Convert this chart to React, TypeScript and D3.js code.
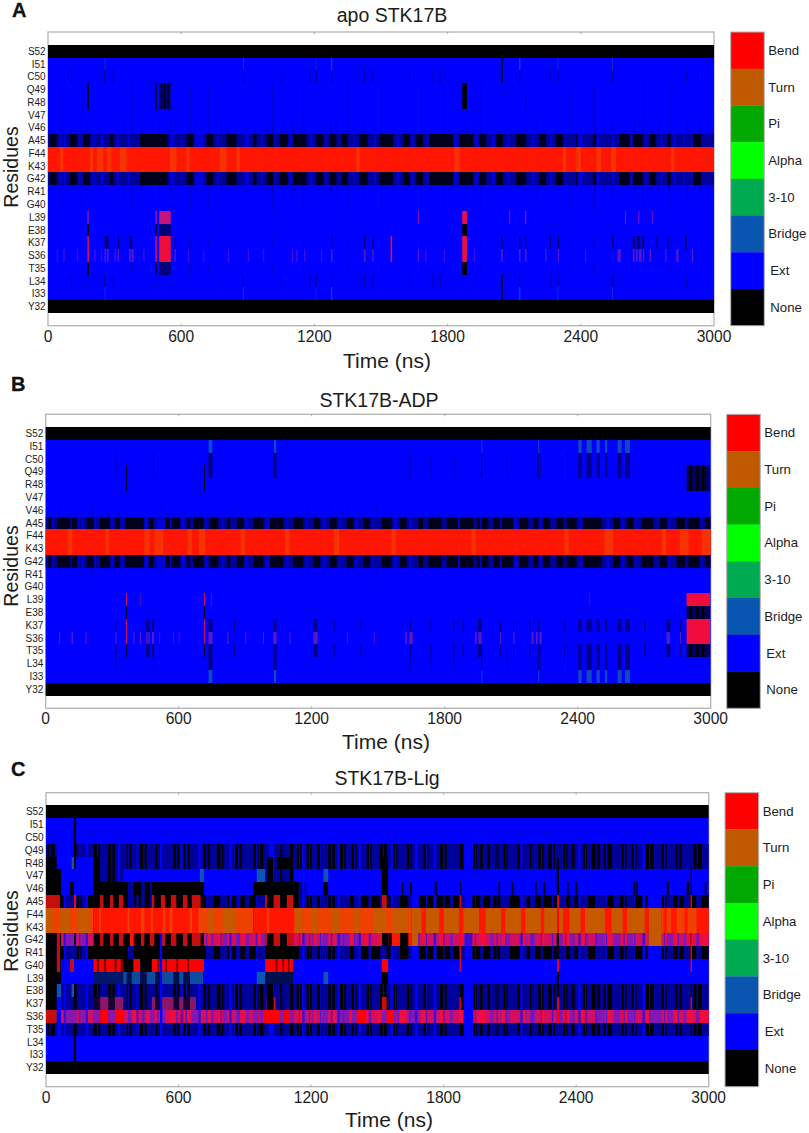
import React from "react";
import * as d3 from "d3";

type Span = [number, number];
type Seg = [number, number, string];
interface Mottle { on: string; fill: string; spans: Span[]; rows?: number[] }
interface Layer { rows: number[]; fill: string; spans: Span[] }

const FONT = "'Liberation Sans', Arial, sans-serif";
const residues = ["Y32","I33","L34","T35","S36","K37","E38","L39","G40","R41","G42","K43","F44","A45","V46","V47","R48","Q49","C50","I51","S52"];
const firstResidue = 32;
const xTicks = [0, 600, 1200, 1800, 2400, 3000];
const legendNames = ["Bend","Turn","Pi","Alpha","3-10","Bridge","Ext","None"];
const legendColors = ["#ff0000","#c05a00","#00a800","#00ff00","#00aa50","#0a55b0","#0000ff","#000000"];

const BLK = "#000000", BLU = "#0000ff", NAV = "#00009a", RED = "#ff1600", TRN = "#c65800", ORG = "#ee4000", SFT = "#f53000",
  BRG = "#0a55b0", PUR = "#8418b4", CRM = "#ee0f3c", DRD = "#c80c0c", PLM = "#8a1468", TEA = "#0b4c9e", DIM = "#0000cc",
  MID = "#c2127e", REDX = "#ff0000", INK = "#00001c", FPU = "#5a14cc";

/* ---------- Panel A ---------- */
const aMidBlack: Span[] = [[9,39],[99,129],[159,189],[279,294],[414,541],[624,654],[714,744],[804,849],[924,939],[984,1014],[1044,1081],[1104,1164],[1209,1239],[1269,1299],[1321,1351],[1404,1441],[1494,1554],[1599,1629],[1659,1689],[1719,1824],[1854,1914],[1944,1974],[2019,2049],[2109,2154],[2214,2244],[2289,2319],[2379,2394],[2454,2476],[2574,2619],[2634,2679],[2709,2739],[2790,2805],[2904,2941]];
const aMidBright: Span[] = [[52,60],[72,80],[140,146],[200,210],[240,248],[310,318],[360,368],[549,570],[600,606],[660,700],[760,768],[885,905],[960,968],[1020,1026],[1088,1094],[1180,1190],[1250,1256],[1375,1382],[1470,1478],[1570,1580],[1640,1648],[1705,1712],[1830,1846],[1925,1938],[2000,2012],[2070,2080],[2180,2190],[2260,2268],[2327,2334],[2386,2409],[2469,2484],[2540,2550],[2625,2632],[2690,2698],[2760,2768],[2814,2829],[2860,2868],[2897,2904]];
const aOrange: Span[] = [[54,69],[189,204],[219,249],[264,286],[324,354],[549,579],[624,639],[774,804],[849,864],[1389,1404],[1831,1854],[2319,2334],[2379,2401],[2469,2491],[2536,2559],[2806,2821]];
const aC50Lines: Span[] = [[103,109],[252,258],[291,297],[877,883],[1049,1053],[1176,1182],[1206,1212],[1275,1281],[1423,1429],[1461,1467],[1627,1631],[1732,1736],[1765,1769],[2041,2047],[2122,2128],[2260,2264],[2296,2300],[2541,2547],[2875,2879],[2924,2928]];
const aI51Lines: Span[] = [[2041,2048]];
const aI51Teal: Span[] = [[255,258],[880,883],[1206,1209],[1275,1281],[2122,2128],[2296,2299],[2541,2544]];
const aQ49Black: Span[] = [[178,184],[484,490],[1866,1887]];
const aQ49Navy: Span[] = [[501,553]];
const aQ49Stripes: Span[] = [[508,514],[522,528],[538,544]];
const aR48Lines: Span[] = [[2150,2154]];
const aL39Crimson: Span[] = [[178,183],[484,490],[1666,1670],[2078,2082],[2149,2154],[2600,2604],[2660,2664],[2720,2723]];
const aL39Mid: Span[] = [[501,553]];
const aL39Bright: Span[] = [[1866,1887]];
const aE38Black: Span[] = [[178,184],[484,490],[1866,1887]];
const aE38Navy: Span[] = [[501,553]];
const aK37Dark: Span[] = [[255,273],[314,320],[365,378],[570,575],[1275,1281],[1423,1430],[1461,1467],[1543,1550],[2041,2048],[2122,2128],[2149,2155],[2260,2265],[2296,2302],[2541,2547],[2634,2644],[2652,2668],[2676,2686],[2740,2745],[2790,2795],[2870,2878]];
const aS36Purple: Span[] = [[40,44],[70,74],[130,134],[210,214],[240,244],[255,262],[266,273],[300,304],[314,320],[365,372],[376,385],[430,434],[570,575],[630,634],[700,704],[810,814],[900,904],[970,974],[1100,1104],[1120,1124],[1155,1159],[1230,1234],[1275,1281],[1423,1430],[1461,1467],[1666,1672],[1700,1704],[1785,1789],[1920,1924],[2041,2048],[2122,2128],[2149,2155],[2240,2245],[2296,2302],[2420,2424],[2566,2580],[2634,2642],[2648,2656],[2662,2674],[2680,2686],[2710,2716],[2780,2786],[2830,2840],[2900,2906]];
const aS36Red: Span[] = [[178,184],[484,490],[501,553],[1543,1550],[1866,1887]];
const aFaintMid: Span[] = [[178,182],[340,344],[420,424],[500,504],[550,554],[660,664],[780,784],[1060,1064],[1100,1104],[1270,1274],[1300,1304],[1420,1424],[1880,1884],[2200,2204],[2400,2404],[2540,2544],[2640,2644],[2700,2704],[2750,2754],[2880,2884],[2940,2944],[2970,2974]];
const aFaintUpper: Span[] = [[60,64],[150,154],[380,384],[640,644],[720,724],[1010,1014],[1150,1154],[1350,1354],[1500,1504],[1680,1684],[1780,1784],[1950,1954],[2350,2354],[2460,2464],[2680,2684],[2800,2804]];

const aSegs: Record<number, Seg[]> = {
  45: [[0,3000,NAV]], 42: [[0,3000,NAV]],
  44: [[0,3000,RED]], 43: [[0,3000,RED]],
};
const aMottles: Mottle[] = [
  { on: NAV, fill: INK, spans: aMidBlack }, { on: NAV, fill: "#0000d8", spans: aMidBright }, { on: RED, fill: SFT, spans: aOrange },
];
const aLayers: Layer[] = [
  { rows: [46,41,47,40,49,48,37,35], fill: DIM, spans: aFaintUpper },
  { rows: [46,41], fill: DIM, spans: aFaintMid },
  { rows: [50,34], fill: "#0000a8", spans: aC50Lines },
  { rows: [51,33], fill: "#1040c8", spans: aI51Teal },
  { rows: [51,33,50,34], fill: BLK, spans: aI51Lines },
  { rows: [49,48], fill: BLK, spans: aQ49Black },
  { rows: [49,48], fill: "#00007a", spans: aQ49Navy },
  { rows: [49,48], fill: INK, spans: aQ49Stripes },
  { rows: [48], fill: "#0000a8", spans: aR48Lines },
  { rows: [39], fill: "#b0109c", spans: aL39Crimson },
  { rows: [39], fill: MID, spans: aL39Mid },
  { rows: [39], fill: CRM, spans: aL39Bright },
  { rows: [38,35], fill: BLK, spans: aE38Black },
  { rows: [38,35], fill: "#00007a", spans: aE38Navy },
  { rows: [37], fill: "#00007a", spans: aK37Dark },
  { rows: [36], fill: FPU, spans: aS36Purple },
  { rows: [37,36], fill: CRM, spans: aS36Red },
];

/* ---------- Panel B ---------- */
const bMidBlack: Span[] = [[12,27],[50,110],[117,143],[185,215],[245,290],[313,335],[358,444],[463,486],[541,606],[636,651],[666,711],[741,779],[817,832],[862,892],[937,982],[1012,1072],[1117,1162],[1208,1238],[1283,1313],[1358,1388],[1433,1463],[1516,1561],[1598,1628],[1681,1703],[1726,1786],[1809,1929],[1944,1997],[2019,2109],[2139,2177],[2200,2222],[2245,2275],[2305,2335],[2350,2395],[2425,2508],[2561,2591],[2621,2651],[2688,2741],[2771,2801],[2846,2884],[2899,2951],[2974,2997]];
const bMidBright: Span[] = [[30,36],[145,152],[165,172],[220,228],[296,302],[340,348],[445,463],[501,538],[560,566],[612,630],[720,728],[795,802],[900,908],[990,996],[1000,1010],[1085,1092],[1175,1182],[1250,1262],[1325,1332],[1400,1408],[1475,1482],[1570,1585],[1640,1650],[1860,1868],[1960,1968],[2050,2058],[2112,2125],[2230,2238],[2410,2418],[2530,2545],[2600,2606],[2660,2668],[2810,2818],[2955,2962]];
const bOrange: Span[] = [[100,120],[270,285],[445,470],[490,530],[640,660],[690,720],[880,900],[1080,1100],[1300,1325],[1560,1580],[1920,1940],[2340,2360],[2520,2560],[2780,2800],[2860,2900],[2960,3000]];
const bC50Lines: Span[] = [[315,319],[484,489],[1643,1647],[1736,1740],[1840,1844],[2080,2084],[2230,2234],[2352,2356]];
const bUpperThin: Span[] = [[60,63],[210,213],[520,523],[850,853],[1180,1183],[1280,1283],[1360,1363],[1490,1493]];
const bI51Teal: Span[] = [[735,752],[1030,1040],[1966,1970],[2222,2226],[2403,2418],[2440,2463],[2485,2500],[2523,2533],[2580,2598],[2613,2636]];
const bC50Navy: Span[] = [[734,753],[1027,1042],[2403,2418],[2440,2463],[2485,2500],[2523,2533],[2580,2598],[2613,2636],[1963,1969],[2219,2225]];
const bQ49Black: Span[] = [[363,367],[714,718]];
const bEndNavy: Span[] = [[2891,2997]];
const bEndBlack: Span[] = [[2905,2915],[2935,2945],[2960,2972]];
const bL39Crimson: Span[] = [[363,367],[714,718]];
const bL39Faint: Span[] = [[425,429],[745,751],[2450,2454]];
const bE38Black: Span[] = [[363,367],[714,718]];
const bK37Dark: Span[] = [[315,319],[365,369],[453,470],[480,489],[512,515],[734,753],[850,854],[1027,1042],[1208,1226],[1300,1304],[1420,1424],[1643,1647],[1736,1740],[1840,1844],[1880,1886],[1950,1968],[2049,2053],[2109,2113],[2180,2186],[2222,2228],[2340,2344],[2403,2418],[2440,2463],[2485,2500],[2523,2533],[2580,2598],[2613,2636],[2700,2706],[2800,2818],[2861,2866]];
const bS36Purple: Span[] = [[60,65],[117,123],[180,185],[315,319],[395,400],[425,430],[453,460],[464,470],[480,489],[512,516],[575,579],[600,604],[734,753],[820,825],[900,905],[980,985],[1027,1042],[1100,1104],[1208,1226],[1360,1364],[1480,1484],[1622,1630],[1640,1656],[1936,1944],[1952,1966],[2049,2055],[2109,2115],[2192,2200],[2212,2220],[2228,2237],[2801,2816],[2861,2866]];
const bS36Crimson: Span[] = [[363,367],[714,718]];
const bEndCrimson: Span[] = [[2891,2997]];

const bSegs: Record<number, Seg[]> = {
  45: [[0,3000,NAV]], 42: [[0,3000,NAV]],
  44: [[0,3000,RED]], 43: [[0,3000,RED]],
};
const bMottles: Mottle[] = [
  { on: NAV, fill: INK, spans: bMidBlack }, { on: NAV, fill: "#0000d8", spans: bMidBright }, { on: RED, fill: SFT, spans: bOrange },
];
const bLayers: Layer[] = [
  { rows: [46,41], fill: DIM, spans: bUpperThin },
  { rows: [50,49,34,35], fill: "#0000b0", spans: bC50Lines },
  { rows: [51,33], fill: "#1048c0", spans: bI51Teal },
  { rows: [50,49,34], fill: "#000088", spans: bC50Navy },
  { rows: [49,48], fill: BLK, spans: bQ49Black },
  { rows: [49,48,38,35], fill: "#00005c", spans: bEndNavy },
  { rows: [49,48,38,35], fill: BLK, spans: bEndBlack },
  { rows: [39], fill: CRM, spans: bL39Crimson },
  { rows: [39], fill: "#5010c0", spans: bL39Faint },
  { rows: [38,35], fill: BLK, spans: bE38Black },
  { rows: [37,35], fill: "#000088", spans: bK37Dark },
  { rows: [36], fill: FPU, spans: bS36Purple },
  { rows: [37,36], fill: CRM, spans: bS36Crimson },
  { rows: [39,37,36], fill: CRM, spans: bEndCrimson },
];

/* ---------- Panel C ---------- */
const cDark: Span[] = [[4,14],[22,40],[124,139],[214,245],[282,312],[365,388],[426,456],[494,516],[577,603],[622,652],[712,742],[773,803],[856,886],[939,962],[969,984],[1060,1078],[1105,1120],[1135,1158],[1180,1203],[1229,1250],[1278,1308],[1331,1358],[1384,1407],[1452,1474],[1512,1542],[1573,1588],[1633,1656],[1708,1731],[1784,1814],[1874,1890],[1935,1950],[1965,1977],[1998,2010],[2033,2048],[2071,2089],[2134,2161],[2191,2206],[2229,2252],[2274,2304],[2342,2360],[2380,2395],[2433,2448],[2471,2508],[2523,2561],[2606,2629],[2652,2674],[2716,2750],[2787,2810],[2848,2878],[2931,2968]];
const cDarkB: Span[] = [[63,86],[139,162],[184,245],[260,290],[305,330],[350,380],[400,430],[445,470],[490,520],[540,565],[590,620],[640,660],[700,730],[760,790],[820,860],[880,900],[920,950],[1000,1030],[1060,1090],[1120,1150],[1180,1203],[1229,1250],[1278,1308],[1376,1399],[1422,1459],[1475,1512],[1542,1565],[1603,1640],[1693,1754],[1769,1829],[1844,1874],[1897,1965],[1980,2010],[2025,2056],[2101,2146],[2176,2191],[2214,2244],[2252,2312],[2354,2372],[2388,2418],[2455,2486],[2538,2569],[2599,2629],[2659,2720],[2787,2810],[2840,2886],[2916,2946],[2968,2999]];
const cFine: Span[] = [[150,156],[230,236],[295,300],[372,378],[440,446],[505,510],[590,595],[632,638],[725,730],[790,795],[870,875],[950,955],[1070,1075],[1145,1150],[1190,1195],[1240,1245],[1290,1296],[1345,1350],[1395,1400],[1462,1468],[1525,1530],[1580,1585],[1645,1650],[1720,1725],[1798,1804],[1942,1946],[2040,2044],[2080,2084],[2145,2150],[2198,2203],[2240,2245],[2290,2296],[2350,2355],[2388,2392],[2440,2444],[2488,2493],[2535,2540],[2615,2620],[2662,2667],[2730,2735],[2798,2803],[2860,2865],[2945,2950]];
const cBright: Span[] = [[80,90],[180,190],[325,335],[410,418],[516,526],[610,618],[690,700],[830,840],[1010,1030],[1160,1170],[1320,1330],[1415,1425],[1560,1570],[1670,1682],[1755,1765],[1895,1930],[2150,2158],[2410,2420],[2700,2712]];
const cRedStripes: Span[] = [[235,250],[300,330],[390,410],[455,470],[560,590],[625,650],[720,745],[780,800],[880,905],[960,975],[1060,1075],[1140,1165],[1210,1225],[1300,1315],[1375,1400],[1440,1460],[1500,1520],[1600,1630],[1700,1720],[1780,1800],[1870,1890],[1960,1990],[2060,2080],[2150,2170],[2240,2255],[2340,2370],[2420,2440],[2530,2560],[2610,2630],[2710,2730],[2795,2810],[2840,2860],[2900,2930],[2960,3000]];
const cOrangeStripes: Span[] = [[240,248],[370,378],[430,445],[475,484],[530,540],[560,572],[650,662],[690,715],[1000,1010]];
const cTurnStripes: Span[] = [[0,30],[60,110],[145,200],[735,760],[800,860],[1130,1160],[1200,1230],[1290,1330],[1390,1420],[1480,1540],[1570,1640]];
const cTurnRed: Span[] = [[1800,1815],[1865,1880],[1980,2000],[2055,2085],[2145,2160],[2220,2235],[2340,2365],[2420,2440],[2540,2570],[2660,2690],[2795,2810],[2830,2855],[2890,2905],[2945,3000]];
const cG40Black: Span[] = [[230,240],[262,272],[310,320],[338,350],[505,514],[540,548],[590,598],[640,648],[1040,1048],[1070,1078],[1095,1102]];
const cThinV46: Span[] = [[1611,1618],[1648,1656],[1760,1770],[1875,1880],[2048,2056],[2108,2116],[2214,2222],[2252,2260],[2358,2366],[2395,2405],[2660,2668],[2672,2680],[2810,2820],[2900,2912],[2982,2990]];
const cStem: Span[] = [[2312,2322]];
const cStemRed: Span[] = [[2314,2322]];
const cLine125: Span[] = [[126,136]];
const cGlobalBlue: Span[] = [[516,526]];
const cPostLines: Span[] = [[2918,2924]];
const cAccent: Span[] = [[1872,1878],[2918,2924]];

const cSegs: Record<number, Seg[]> = {
  49: [[0,49,NAV],[49,127,BLU],[127,136,BLK],[136,1011,NAV],[1011,1032,BLU],[1032,1890,NAV],[1890,1935,BLU],[1935,3000,NAV]],
  48: [[0,49,BLK],[49,116,BLU],[116,127,BRG],[127,136,BLK],[136,215,BLU],[215,245,BLK],[245,999,NAV],[999,1029,BLK],[1029,1044,NAV],[1044,1120,BLK],[1120,1520,NAV],[1520,1550,BLK],[1550,1890,NAV],[1890,1935,BLU],[1935,3000,NAV]],
  47: [[0,68,BLK],[68,215,BLU],[215,245,BLK],[245,350,NAV],[350,697,BLU],[697,715,BRG],[715,954,BLU],[954,992,BRG],[992,999,BLU],[999,1029,BLK],[1029,1120,NAV],[1120,1256,BLU],[1256,1278,BRG],[1278,1520,BLU],[1520,1550,BLK],[1550,3000,BLU]],
  46: [[0,68,BLK],[68,109,BLU],[109,127,BLK],[127,215,BLU],[215,350,BLK],[350,396,NAV],[396,426,BLK],[426,479,NAV],[479,715,BLK],[715,939,BLU],[939,1120,BLK],[1120,1180,NAV],[1180,1256,BLU],[1256,1278,BLK],[1278,1520,BLU],[1520,1550,BLK],[1550,3000,BLU]],
  45: [[0,68,DRD],[68,127,NAV],[127,136,REDX],[136,215,NAV],[215,350,DRD],[350,479,NAV],[479,715,DRD],[715,992,NAV],[992,1120,DRD],[1120,1520,NAV],[1520,1550,DRD],[1550,1656,NAV],[1656,1686,BLU],[1686,2727,NAV],[2727,2788,BLU],[2788,3000,NAV]],
  44: [[0,215,ORG],[215,715,RED],[715,939,ORG],[939,1120,RED],[1120,1656,ORG],[1656,2727,TRN],[2727,2788,TRN],[2788,3000,ORG]],
  43: [[0,215,ORG],[215,715,RED],[715,939,ORG],[939,1120,RED],[1120,1656,ORG],[1656,2727,TRN],[2727,2788,TRN],[2788,3000,ORG]],
  42: [[0,49,BLK],[49,68,DRD],[68,127,PUR],[127,136,BLK],[136,215,PUR],[215,350,DRD],[350,396,RED],[396,715,DRD],[715,992,PUR],[992,1120,DRD],[1120,1520,PUR],[1520,1550,BLK],[1550,1656,RED],[1656,1686,TRN],[1686,2727,PUR],[2727,2788,TRN],[2788,3000,PUR]],
  41: [[0,49,BLK],[49,68,DRD],[68,215,NAV],[215,350,BLK],[350,396,NAV],[396,715,BLK],[715,992,NAV],[992,1120,BLK],[1120,1656,NAV],[1656,1686,BLU],[1686,2727,NAV],[2727,2788,BLU],[2788,3000,NAV]],
  40: [[0,49,BLK],[49,68,DRD],[68,109,BLU],[109,127,DRD],[127,215,BLU],[215,350,REDX],[350,396,BLK],[396,426,REDX],[426,479,BLK],[479,715,REDX],[715,992,BLU],[992,1120,REDX],[1120,1520,BLU],[1520,1550,REDX],[1550,3000,BLU]],
  39: [[0,68,BLK],[68,215,BLU],[215,350,"#00186c"],[350,715,TEA],[715,954,BLU],[954,992,BRG],[992,1120,"#000c50"],[1120,1256,BLU],[1256,1278,BRG],[1278,1520,BLU],[1520,1550,BLK],[1550,3000,BLU]],
  38: [[0,49,BLK],[49,68,BRG],[68,116,NAV],[116,127,BRG],[127,136,NAV],[136,999,NAV],[999,1029,BLK],[1029,1890,NAV],[1890,1935,BLU],[1935,3000,NAV]],
  37: [[0,49,BLK],[49,68,BLU],[68,215,NAV],[215,350,PLM],[350,479,NAV],[479,680,PLM],[680,999,NAV],[999,1040,DRD],[1040,1520,NAV],[1520,1550,DRD],[1550,1890,NAV],[1890,1935,BLU],[1935,3000,NAV]],
  36: [[0,49,DRD],[49,68,BLU],[68,127,PUR],[127,136,REDX],[136,215,PUR],[215,350,REDX],[350,939,PUR],[939,1120,REDX],[1120,1385,PUR],[1385,1450,REDX],[1450,1520,PUR],[1520,1595,REDX],[1595,1890,PUR],[1890,1935,BLU],[1935,3000,PUR]],
  35: [[0,49,NAV],[49,68,BLU],[68,1890,NAV],[1890,1935,BLU],[1935,3000,NAV]],
};
const cMottleRows = [49,48,47,38,37,35];
const cMottleRowsB = [45,41,46];
const cMottles: Mottle[] = [
  { on: NAV, fill: BLK, spans: cDark, rows: cMottleRows },
  { on: NAV, fill: BLK, spans: cDarkB, rows: cMottleRowsB },
  { on: NAV, fill: "#0000c8", spans: cFine },
  { on: NAV, fill: BLU, spans: cBright, rows: [...cMottleRows, ...cMottleRowsB] },
  { on: DRD, fill: BLK, spans: cDarkB },
  { on: PLM, fill: "#180030", spans: cDark },
  { on: PUR, fill: "#d41060", spans: cDarkB },
  { on: PUR, fill: CRM, spans: cRedStripes },
  { on: PUR, fill: "#3a10d0", spans: cBright },
  { on: PUR, fill: "#5014c8", spans: cFine },
  { on: RED, fill: BLK, spans: cDarkB, rows: [42] },
  { on: REDX, fill: "#7a0606", spans: cG40Black, rows: [40] },
  { on: REDX, fill: PUR, spans: cDark, rows: [36] },
  { on: RED, fill: ORG, spans: cOrangeStripes, rows: [44,43] },
  { on: ORG, fill: TRN, spans: cTurnStripes },
  { on: ORG, fill: RED, spans: cTurnRed },
  { on: TRN, fill: RED, spans: cRedStripes, rows: [44,43] },
  { on: TEA, fill: "#000c50", spans: cDark },
];
const cLayers: Layer[] = [
  { rows: [46], fill: INK, spans: cThinV46 },
  { rows: [51,50,49,34,33], fill: BLK, spans: cLine125 },
  { rows: [42,41,40,39,38,37,36,35], fill: BLU, spans: cGlobalBlue },
  { rows: [48,47,46,42,41,39,38], fill: BLK, spans: cStem },
  { rows: [45,44,43,40,37,36], fill: REDX, spans: cStemRed },
  { rows: [47,46,45,41,42,38,37,35], fill: BLK, spans: cPostLines },
  { rows: [45,42,41,40,37], fill: REDX, spans: cAccent },
];

const lettersAndTitles = [
  { letter: "A", title: "apo STK17B" },
  { letter: "B", title: "STK17B-ADP" },
  { letter: "C", title: "STK17B-Lig" },
];
const panelData = [
  { segs: aSegs, mottles: aMottles, layers: aLayers },
  { segs: bSegs, mottles: bMottles, layers: bLayers },
  { segs: cSegs, mottles: cMottles, layers: cLayers },
];
const frames = [
  { L: 48, R: 714, T: 32, B: 325.7, barL: 730.7, barR: 764.3, titleX: 392, timeX: 387, residuesY: 167, residuesX: 18, titleY: 22, tickY: 341.5, timeY: 368, letterY: 17, letterX: 12 },
  { L: 45.7, R: 710.7, T: 414.3, B: 708.3, barL: 726.7, barR: 760.3, titleX: 379, timeX: 386, residuesY: 566, residuesX: 18, titleY: 407, tickY: 724, timeY: 749, letterY: 391, letterX: 11 },
  { L: 46, R: 708.7, T: 792.7, B: 1086.7, barL: 725, barR: 758.7, titleX: 387, timeX: 389, residuesY: 931, residuesX: 18, titleY: 785, tickY: 1102.5, timeY: 1127, letterY: 776, letterX: 11 },
];

function Panel({ index }: { index: number }) {
  const f = frames[index];
  const d = panelData[index];
  const x = d3.scaleLinear().domain([0, 3000]).range([f.L, f.R]);
  const y = d3.scaleLinear().domain([firstResidue - 1, firstResidue + 22]).range([f.B, f.T]);
  const bar = d3.scaleBand<string>().domain(legendNames).range([f.T, f.B]);
  const rects: { k: string; x: number; y: number; w: number; h: number; fill: string }[] = [];
  const push = (r: number, a: number, b: number, fill: string) => {
    const top = Math.round(y(r + 1));
    const bottom = Math.round(y(r));
    rects.push({ k: `${rects.length}`, x: x(a), y: top, w: Math.max(x(b) - x(a), 0.6), h: bottom - top, fill });
  };
  residues.forEach((_, i) => {
    const r = firstResidue + i;
    push(r, 0, 3000, i === 0 || i === residues.length - 1 ? BLK : BLU);
    const segs = d.segs[r] || [];
    segs.forEach(([a, b, c]) => push(r, a, b, c));
    d.mottles.forEach((m) => {
      if (m.rows && !m.rows.includes(r)) return;
      segs.forEach(([a, b, c]) => {
        if (c !== m.on) return;
        m.spans.forEach(([s, e]) => {
          const p = Math.max(s, a), q = Math.min(e, b);
          if (q > p) push(r, p, q, m.fill);
        });
      });
    });
  });
  d.layers.forEach((l) => l.rows.forEach((r) => l.spans.forEach(([a, b]) => push(r, a, b, l.fill))));
  const g = "#b4b4b4";
  const txt = "#1c1c1c";
  return (
    <g fontFamily={FONT} fill={txt}>
      <text x={f.letterX} y={f.letterY} fontSize={20} fontWeight={700} fill="#111" stroke="#111" strokeWidth={0.3}>{lettersAndTitles[index].letter}</text>
      <text x={f.titleX} y={f.titleY} fontSize={19.5} textAnchor="middle">{lettersAndTitles[index].title}</text>
      <rect x={f.L} y={f.T} width={f.R - f.L} height={f.B - f.T} fill="#fff" stroke={g} strokeWidth={1.3} />
      <g filter="url(#soft)">
        {rects.map((r) => <rect key={r.k} x={r.x} y={r.y} width={r.w} height={r.h} fill={r.fill} />)}
      </g>
      {xTicks.map((t) => (
        <g key={t}>
          {t > 0 && t < 3000 && <line x1={x(t)} x2={x(t)} y1={f.T} y2={f.T + 2} stroke="#999" strokeWidth={0.8} />}
          {t > 0 && t < 3000 && <line x1={x(t)} x2={x(t)} y1={f.B} y2={f.B - 2} stroke="#999" strokeWidth={0.8} />}
          <text x={x(t)} y={f.tickY} fontSize={15.6} textAnchor="middle">{t}</text>
        </g>
      ))}
      {residues.map((name, i) => (
        <text key={name} x={f.L - 2.3} y={y(firstResidue + i + 0.5) + 3.6} fontSize={10} textAnchor="end">{name}</text>
      ))}
      <text transform={`translate(${f.residuesX},${f.residuesY}) rotate(-90)`} fontSize={19.5} textAnchor="middle">Residues</text>
      <text x={f.timeX} y={f.timeY} fontSize={21} textAnchor="middle">Time (ns)</text>
      {legendNames.map((name, i) => (
        <g key={name}>
          <rect x={f.barL} y={bar(name)!} width={f.barR - f.barL} height={bar.bandwidth() + 0.3} fill={legendColors[i]} />
          <text x={f.barR + (i >= 6 ? 6 : 4)} y={bar(name)! + bar.bandwidth() / 2 + 4.5} fontSize={13.2}>{name}</text>
        </g>
      ))}
      <rect x={f.barL} y={f.T} width={f.barR - f.barL} height={f.B - f.T} fill="none" stroke={g} strokeWidth={1} />
    </g>
  );
}

export default function App() {
  return (
    <svg width={809} height={1133} viewBox="0 0 809 1133" style={{ position: "absolute", left: 0, top: 0, background: "#fff" }}>
      <defs>
        <filter id="soft" x="-2%" y="-2%" width="104%" height="104%">
          <feGaussianBlur stdDeviation="0.5 0.25" />
        </filter>
      </defs>
      {frames.map((_, i) => <Panel key={i} index={i} />)}
    </svg>
  );
}
